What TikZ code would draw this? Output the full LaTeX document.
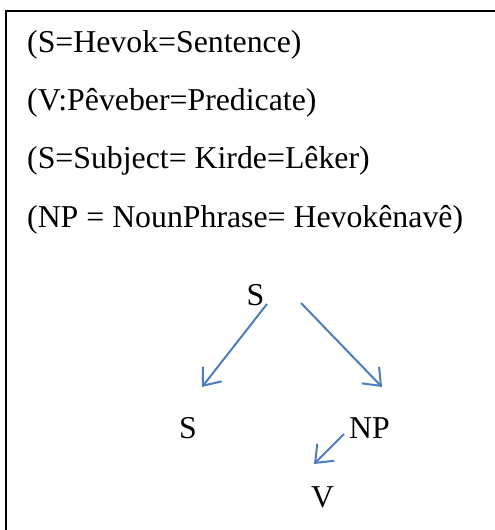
\documentclass[tikz,border=0pt]{standalone}
\usepackage{fontspec}
\setmainfont{Liberation Serif}
\usetikzlibrary{arrows.meta}
\definecolor{arrowblue}{RGB}{74,126,190}
\tikzset{
  txt/.style={anchor=base west, inner sep=0pt, font=\fontsize{31.8bp}{36bp}\selectfont},
  tree/.style={anchor=base, inner sep=0pt, font=\fontsize{31.8bp}{36bp}\selectfont},
  arr/.style={draw=arrowblue, line width=2bp, -{Straight Barb[length=15bp,width=24bp,line width=2bp]}},
  frame/.style={draw=black, line width=1.8bp}
}
\begin{document}
\begin{tikzpicture}[x=1bp,y=-1bp]
\useasboundingbox (0,0) rectangle (495,530);
\clip (0,0) rectangle (495,530);
\fill[white] (0,0) rectangle (495,530);
\draw[frame] (6,11) rectangle (510,545);
\node[txt] (l1) at (27,53) {(S=Hevok=Sentence)};
\node[txt] (l2) at (27,111) {(V:Pêveber=Predicate)};
\node[txt] (l3) at (27,168.5) {(S=Subject= Kirde=Lêker)};
\node[txt] (l4) at (27,227) {(NP = NounPhrase= Hevokênavê)};
\node[tree] (s0) at (255.5,305) {S};
\node[tree] (s1) at (188,438) {S};
\node[tree] (np) at (369.5,438) {NP};
\node[tree] (v) at (322.5,507) {V};
\draw[arr] ([xshift=11.5bp,yshift=1bp]s0.base) -- ([xshift=14bp,yshift=51bp]s1.base);
\draw[arr] ([xshift=45.5bp,yshift=2bp]s0.base) -- ([xshift=12.5bp,yshift=51bp]np.base);
\draw[arr] ([xshift=-25.5bp,yshift=4bp]np.base) -- ([xshift=-8.5bp,yshift=43bp]v.base);
\end{tikzpicture}
\end{document}
